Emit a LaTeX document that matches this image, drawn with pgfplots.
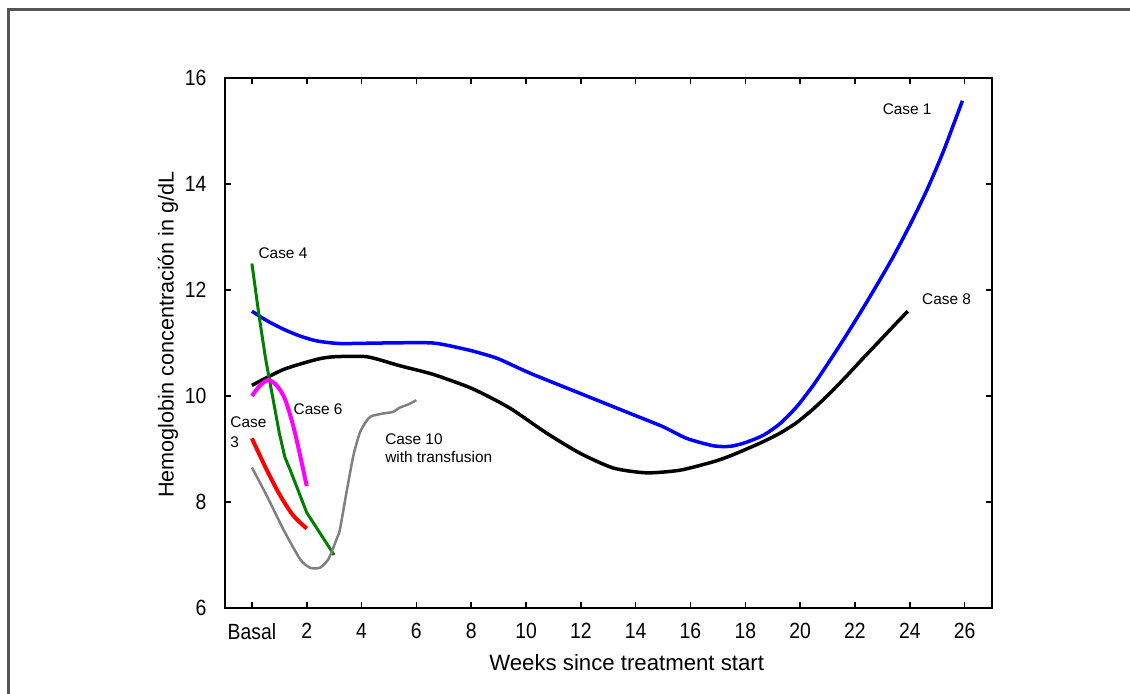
\documentclass[border=0pt]{standalone}
\usepackage{fontspec}
\setmainfont{Liberation Sans}
\newfontfamily\narrowfont[FakeStretch=0.88]{Liberation Sans}
\usepackage{pgfplots}
\pgfplotsset{compat=1.18}
\definecolor{framegray}{RGB}{85,85,85}
\definecolor{cgreen}{RGB}{0,128,0}
\definecolor{cgray}{RGB}{128,128,128}
\definecolor{cmag}{RGB}{255,0,255}
\begin{document}
\begin{tikzpicture}
\useasboundingbox (0,0) rectangle (565pt,347pt);
\draw[framegray, line width=1.5pt] (4pt,-2pt) -- (4pt,342pt) -- (567pt,342pt);
\begin{axis}[
  at={(112.25pt,43pt)}, anchor=south west,
  scale only axis, width=383.75pt, height=265pt,
  xmin=-1, xmax=27, ymin=6, ymax=16,
  xtick={0,2,...,26},
  xticklabels={Basal,2,4,6,8,10,12,14,16,18,20,22,24,26},
  ytick={6,8,...,16},
  tick align=inside, major tick length=3pt,
  axis line style={line width=1pt},
  every tick/.style={black, line width=0.8pt},
  /pgf/number format/assume math mode=true,
  tick label style={font=\narrowfont\fontsize{11}{12}\selectfont},
  xticklabel style={yshift=-4.2pt},
  yticklabel style={xshift=-5.5pt},
  xlabel={Weeks since treatment start},
  ylabel={Hemoglobin concentración in g/dL},
  every axis x label/.style={at={(axis description cs:0.524,0)}, anchor=center, yshift=-27.5pt, font=\fontsize{11.1}{12}\selectfont},
  every axis y label/.style={at={(axis description cs:-0.0736,0.516)}, anchor=center, rotate=90, font=\fontsize{10.8}{12}\selectfont},
  clip=false,
]
% Case 1 (blue)
\addplot[blue, line width=1.75pt, smooth, tension=0.4] coordinates {
(0,11.6) (0.55,11.42) (1.15,11.26) (1.76,11.13) (2.36,11.04) (3.2,10.99) (4.8,11.0) (6.6,11.0)
(7.8,10.88) (8.32,10.81) (9.0,10.7) (10.15,10.43) (11.97,10.05) (13.8,9.67) (15.0,9.42)
(15.86,9.20) (16.84,9.06) (17.45,9.05) (18.0,9.12) (18.66,9.26) (19.27,9.48) (19.88,9.80)
(20.49,10.21) (21.1,10.68) (21.7,11.16) (22.37,11.72) (23.0,12.27) (23.41,12.64) (24.0,13.22)
(24.62,13.88) (25.23,14.62) (25.92,15.57)};
% Case 8 (black)
\addplot[black, line width=1.75pt, smooth, tension=0.4] coordinates {
(0,10.2) (1.15,10.5) (2.36,10.69) (3.0,10.74) (4.2,10.74) (5.4,10.57) (6.6,10.41) (7.8,10.19)
(8.32,10.07) (9.0,9.89) (9.54,9.73) (10.75,9.30) (11.97,8.92) (13.19,8.64) (14.4,8.55)
(15.62,8.60) (16.84,8.76) (17.45,8.87) (18.05,9.0) (18.66,9.14) (19.27,9.30) (19.88,9.50)
(20.49,9.76) (21.1,10.06) (21.7,10.38) (22.31,10.72) (22.9,11.04) (23.41,11.32) (23.93,11.60)};
% Case 4 (green)
\addplot[cgreen, line width=1.5pt] coordinates {
(0,12.5) (0.25,11.55) (0.5,10.7) (0.75,10.0) (1.0,9.3) (1.2,8.85) (1.4,8.6) (2.0,7.8) (3.0,7.0)};
% Case 6 (magenta)
\addplot[cmag, line width=2pt, smooth, tension=0.5] coordinates {
(0,10.0) (0.3,10.2) (0.6,10.3) (0.9,10.2) (1.2,9.95) (1.5,9.45) (1.75,8.9) (2.0,8.3)};
% Case 3 (red)
\addplot[red, line width=2pt, smooth] coordinates {
(0,9.2) (0.5,8.65) (1.0,8.15) (1.5,7.75) (2.0,7.5)};
% Case 10 (gray)
\addplot[cgray, line width=1.25pt, smooth, tension=0.4] coordinates {
(0,8.65) (0.55,8.11) (1.15,7.48) (1.76,6.92) (2.12,6.76) (2.48,6.76) (2.79,6.92) (3.09,7.30)
(3.21,7.48) (3.45,8.18) (3.70,8.87) (3.94,9.31) (4.18,9.53) (4.36,9.62) (4.79,9.67) (5.15,9.70)
(5.39,9.78) (5.70,9.84) (6.0,9.92)};
\begin{scope}[every node/.style={inner sep=0pt, anchor=west, font=\fontsize{7.7}{9.6}\selectfont, align=left}]
\node at (axis cs:23.0,15.42) {Case 1};
\node at (axis cs:24.44,11.82) {Case 8};
\node at (axis cs:0.23,12.69) {Case 4};
\node at (axis cs:1.51,9.75) {Case 6};
\node[font=\fontsize{7.7}{10}\selectfont] at (axis cs:-0.80,9.32) {Case\\3};
\node[font=\fontsize{7.7}{9.2}\selectfont] at (axis cs:4.85,9.01) {Case 10\\with transfusion};
\end{scope}
\end{axis}
\end{tikzpicture}
\end{document}
